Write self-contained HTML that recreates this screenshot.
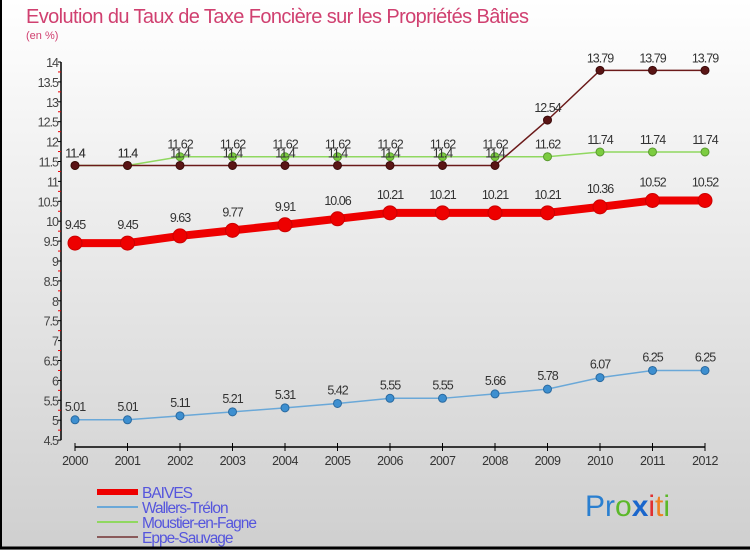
<!DOCTYPE html>
<html><head><meta charset="utf-8"><style>
body{margin:0}
#c{width:750px;height:550px;position:relative;overflow:hidden;background:linear-gradient(#ffffff,#cfcfcf);font-family:"Liberation Sans",sans-serif}
</style></head><body>
<div id="c">
<svg id="s" width="750" height="550" style="position:absolute;left:0;top:0">
<line x1="1" y1="0" x2="1" y2="548" stroke="#000" stroke-width="2"/>
<line x1="0" y1="548" x2="750" y2="548" stroke="#000" stroke-width="3"/>
<text x="26" y="23" font-size="20" fill="#d04070" style="letter-spacing:-0.6px">Evolution du Taux de Taxe Foncière sur les Propriétés Bâties</text>
<text x="26" y="39" font-size="11" fill="#d04070">(en %)</text>
<g id="axes"></g><g id="series"></g><g id="legend"></g>
<text x="585" y="516" font-size="30" font-family="Liberation Sans, sans-serif"><tspan fill="#2a7fd0">Pr</tspan><tspan fill="#5cb82a">o</tspan><tspan fill="#1a66cc" font-weight="bold">x</tspan><tspan fill="#e03030">i</tspan><tspan fill="#f08020">t</tspan><tspan fill="#5cb82a">i</tspan></text>
</svg></div>
<script>
const years=[2000,2001,2002,2003,2004,2005,2006,2007,2008,2009,2010,2011,2012];
const baives=[9.45,9.45,9.63,9.77,9.91,10.06,10.21,10.21,10.21,10.21,10.36,10.52,10.52];
const wallers=[5.01,5.01,5.11,5.21,5.31,5.42,5.55,5.55,5.66,5.78,6.07,6.25,6.25];
const moustier=[11.4,11.4,11.62,11.62,11.62,11.62,11.62,11.62,11.62,11.62,11.74,11.74,11.74];
const eppe=[11.4,11.4,11.4,11.4,11.4,11.4,11.4,11.4,11.4,12.54,13.79,13.79,13.79];
const yTicks=[4.5,5,5.5,6,6.5,7,7.5,8,8.5,9,9.5,10,10.5,11,11.5,12,12.5,13,13.5,14];
const NS='http://www.w3.org/2000/svg';
const X=i=>75+i*52.5, Y=v=>62+(14-v)*39.8;
function mk(p,t,a){const e=document.createElementNS(NS,t);for(const k in a)e.setAttribute(k,a[k]);p.appendChild(e);return e;}
const ax=document.getElementById('axes');
let l=mk(ax,'line',{x1:61,y1:Y(14),x2:61,y2:Y(4.5),stroke:'#000','stroke-width':1.5});

yTicks.forEach(v=>{const y=Y(v);
 mk(ax,'line',{x1:58,y1:y,x2:61,y2:y,stroke:'#000'});
 if(v>4.5) mk(ax,'line',{x1:58,y1:y+9.95,x2:61,y2:y+9.95,stroke:'#e00'});
 const t=mk(ax,'text',{x:58,y:y+5,'font-size':12.5,fill:'#444','text-anchor':'end','letter-spacing':'-1'});t.textContent=v;
 });
l=mk(ax,'line',{x1:X(0),y1:447,x2:X(12),y2:447,stroke:'#000','stroke-width':1.5});

years.forEach((yr,i)=>{mk(ax,'line',{x1:X(i),y1:443,x2:X(i),y2:451,stroke:'#000'});
 const t=mk(ax,'text',{x:X(i),y:465,'font-size':12.5,fill:'#333','text-anchor':'middle','letter-spacing':'-0.5'});t.textContent=yr;
 });
const sg=document.getElementById('series');
function series(name,vals,color,lw,r,dot,stroke,lblOff){
 const g=mk(sg,'g',{});
 mk(g,'polyline',{points:vals.map((v,i)=>X(i)+','+Y(v)).join(' '),fill:'none',stroke:color,'stroke-width':lw});
 vals.forEach((v,i)=>{const c=mk(g,'circle',{cx:X(i),cy:Y(v),r:r,fill:dot,stroke:stroke,'stroke-width':1});
  
  const t=mk(g,'text',{x:X(i),y:Y(v)-lblOff,'font-size':12.5,fill:'#333','text-anchor':'middle','letter-spacing':'-1'});t.textContent=v;
  });
}
series('moustier',moustier,'#90d860',1.5,4,'#7ccc40','#5a9a30',8);
series('eppe',eppe,'#6b1a1a',1.5,4,'#5a1515','#3a0a0a',8);
series('wallers',wallers,'#6aa8d8',1.5,4,'#3d8fd0','#2a6aa0',9);
series('baives',baives,'#ee0000',8,7,'#ee0000','#cc0000',14);
const lg=document.getElementById('legend');
[['BAIVES','#ee0000',6],['Wallers-Trélon','#6aa8d8',2],['Moustier-en-Fagne','#90d860',2],['Eppe-Sauvage','#8a5a5a',2]].forEach((d,i)=>{
 const y=492+i*15;
 const g=mk(lg,'g',{});
 mk(g,'line',{x1:97,y1:y,x2:138,y2:y,stroke:d[1],'stroke-width':d[2]});
 const t=mk(g,'text',{x:142,y:y+6,'font-size':15.5,fill:'#5555dd','letter-spacing':'-1'});t.textContent=d[0];
});
</script>
</body></html>
